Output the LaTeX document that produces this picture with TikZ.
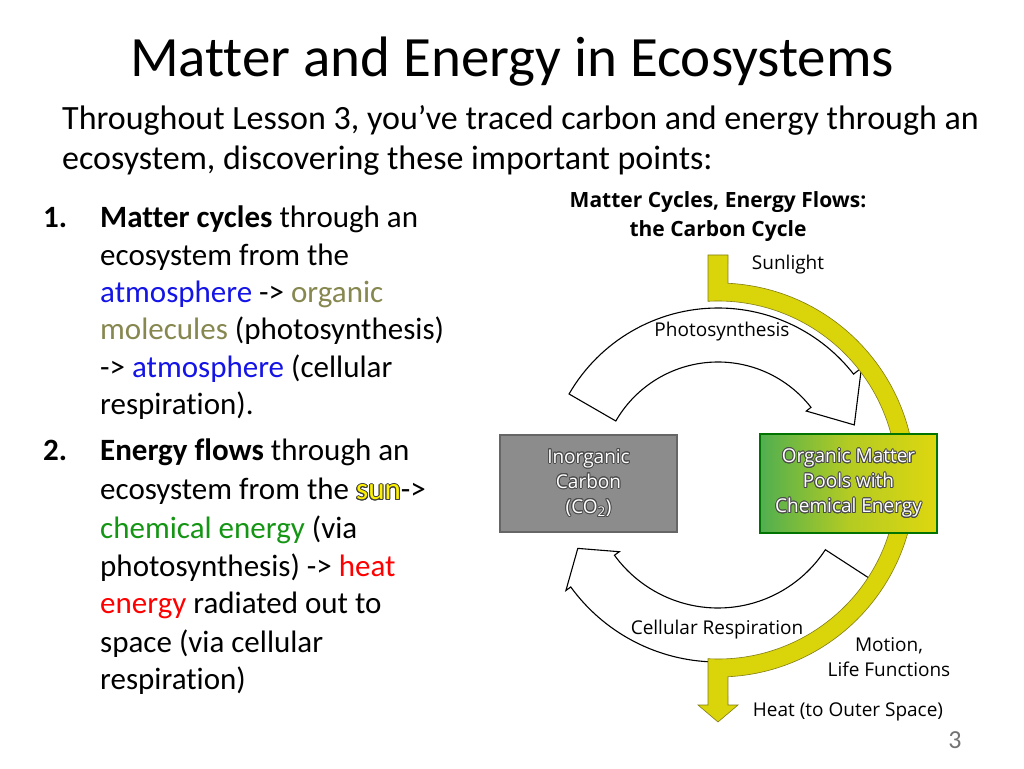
\documentclass[tikz,border=0pt]{standalone}
\usepackage{fontspec}
\setmainfont{Carlito}[Ligatures={NoCommon,NoRare,NoContextual}]
\newfontfamily\dfont{Open Sans}
\usepackage{contour}
\contourlength{0.9pt}
\usetikzlibrary{calc}
\definecolor{band}{RGB}{218,212,10}
\definecolor{bandline}{RGB}{130,125,20}
\definecolor{atm}{RGB}{20,20,230}
\definecolor{org}{RGB}{135,135,80}
\definecolor{chem}{RGB}{20,150,20}
\definecolor{gboxg}{RGB}{80,175,80}
\definecolor{gboxy}{RGB}{222,215,15}
\tikzset{
  lt/.style={anchor=base west,inner sep=0pt,font=\fontsize{31}{34}\selectfont},
  dl/.style={inner sep=0pt,font=\dfont\fontsize{19}{23}\selectfont,align=center},
  bx/.style={inner sep=0pt,font=\dfont\fontsize{19}{25}\selectfont,align=center,text=white},
  warrow/.style={fill=white,draw=black,line width=1.1pt,line join=miter},
}
\newcommand{\wt}[1]{\contour{black!70}{#1}}
\begin{document}
\begin{tikzpicture}[x=1pt,y=1pt]
\useasboundingbox (0,0) rectangle (1024,768);
\fill[white] (0,0) rectangle (1024,768);
\node[inner sep=0pt,font=\fontsize{57}{60}\selectfont] (title) at (512,706) {Matter and Energy in Ecosystems};
\node[lt,font=\fontsize{34}{38}\selectfont] (s1) at (62,638) {Throughout Lesson 3, you’ve traced carbon and energy through an};
\node[lt,font=\fontsize{34}{38}\selectfont] (s2) at (62,598) {ecosystem, discovering these important points:};
% left list
\node[lt] (n1) at (43,540) {\textbf{1.}};
\node[lt] (l1) at (100,540) {\textbf{Matter cycles} through an};
\node[lt] (l2) at (100,502) {ecosystem from the};
\node[lt] (l3) at (100,465) {\textcolor{atm}{atmosphere} -> \textcolor{org}{organic}};
\node[lt] (l4) at (100,428) {\textcolor{org}{molecules} (photosynthesis)};
\node[lt] (l5) at (100,390) {-> \textcolor{atm}{atmosphere} (cellular};
\node[lt] (l6) at (100,353) {respiration).};
\node[lt] (n2) at (43,307) {\textbf{2.}};
\node[lt] (m1) at (100,307) {\textbf{Energy flows} through an};
\node[lt] (m2) at (100,268) {ecosystem from the {\contourlength{1pt}\contour{black!75}{\textcolor{yellow}{sun}}}->};
\node[lt] (m3) at (100,229) {\textcolor{chem}{chemical energy} (via};
\node[lt] (m4) at (100,191) {photosynthesis) -> \textcolor{red}{heat}};
\node[lt] (m5) at (100,154) {\textcolor{red}{energy} radiated out to};
\node[lt] (m6) at (100,116) {space (via cellular};
\node[lt] (m7) at (100,79) {respiration)};
\node[inner sep=0pt,font=\fontsize{26}{28}\selectfont,text=black!55] (pg) at (955,28) {3};
% diagram
\coordinate (C) at (718,288);
\node[inner sep=0pt,font=\dfont\bfseries\fontsize{21}{29}\selectfont,align=center] (dt) at (718,551) {Matter Cycles, Energy Flows:\\the Carbon Cycle};
% photosynthesis arrow
\draw[warrow] ($(C)+(150:172)$) arc[start angle=150,end angle=38,radius=172]
  -- ($(C)+(38:182)$) -- ($(C)+(22:147)$) -- ($(C)+(38:112)$) -- ($(C)+(38:118)$)
  arc[start angle=38,end angle=150,radius=118] -- cycle;
% respiration arrow
\draw[warrow] ($(C)+(-33:182)$) arc[start angle=-33,end angle=-144,radius=182]
  -- ($(C)+(-144:188)$) -- ($(C)+(-154:156)$) -- ($(C)+(-144:122)$) -- ($(C)+(-144:128)$)
  arc[start angle=-144,end angle=-33,radius=128] -- cycle;
% yellow band
\draw[fill=band,draw=bandline,line width=0.6pt] (708,513) -- (728,513) -- ($(C)+(87.1:197)$)
  arc[start angle=87.1,end angle=-87.1,radius=197] -- (728,63) -- (738,63) -- (718,46) -- (698,63) -- (708,63)
  -- ($(C)+(-93.2:179)$) arc[start angle=-93.2,end angle=93.2,radius=179] -- cycle;
% boxes
\node[draw=black!60,line width=1.5pt,fill=black!45,minimum width=177pt,minimum height=97pt,inner sep=0pt] (inorg) at (588.5,284.5) {};
\node[bx] at (inorg) {\wt{Inorganic}\\\wt{Carbon}\\\wt{(CO\textsubscript{2})}};
\node[draw=green!45!black,line width=1.5pt,left color=gboxg,right color=gboxy,middle color=gboxy!70!gboxg,minimum width=177pt,minimum height=99pt,inner sep=0pt] (orgm) at (848.5,284.5) {};
\node[bx] at (orgm) {\wt{Organic Matter}\\\wt{Pools with}\\\wt{Chemical Energy}};
% labels
\node[dl] (sun) at (788,503) {Sunlight};
\node[dl] (ph) at (722,436) {Photosynthesis};
\node[dl] (cr) at (717,138) {Cellular Respiration};
\node[dl,font=\dfont\fontsize{19}{25}\selectfont] (mo) at (889,111) {Motion,\\Life Functions};
\node[dl] (ht) at (848,56) {Heat (to Outer Space)};
\end{tikzpicture}
\end{document}
